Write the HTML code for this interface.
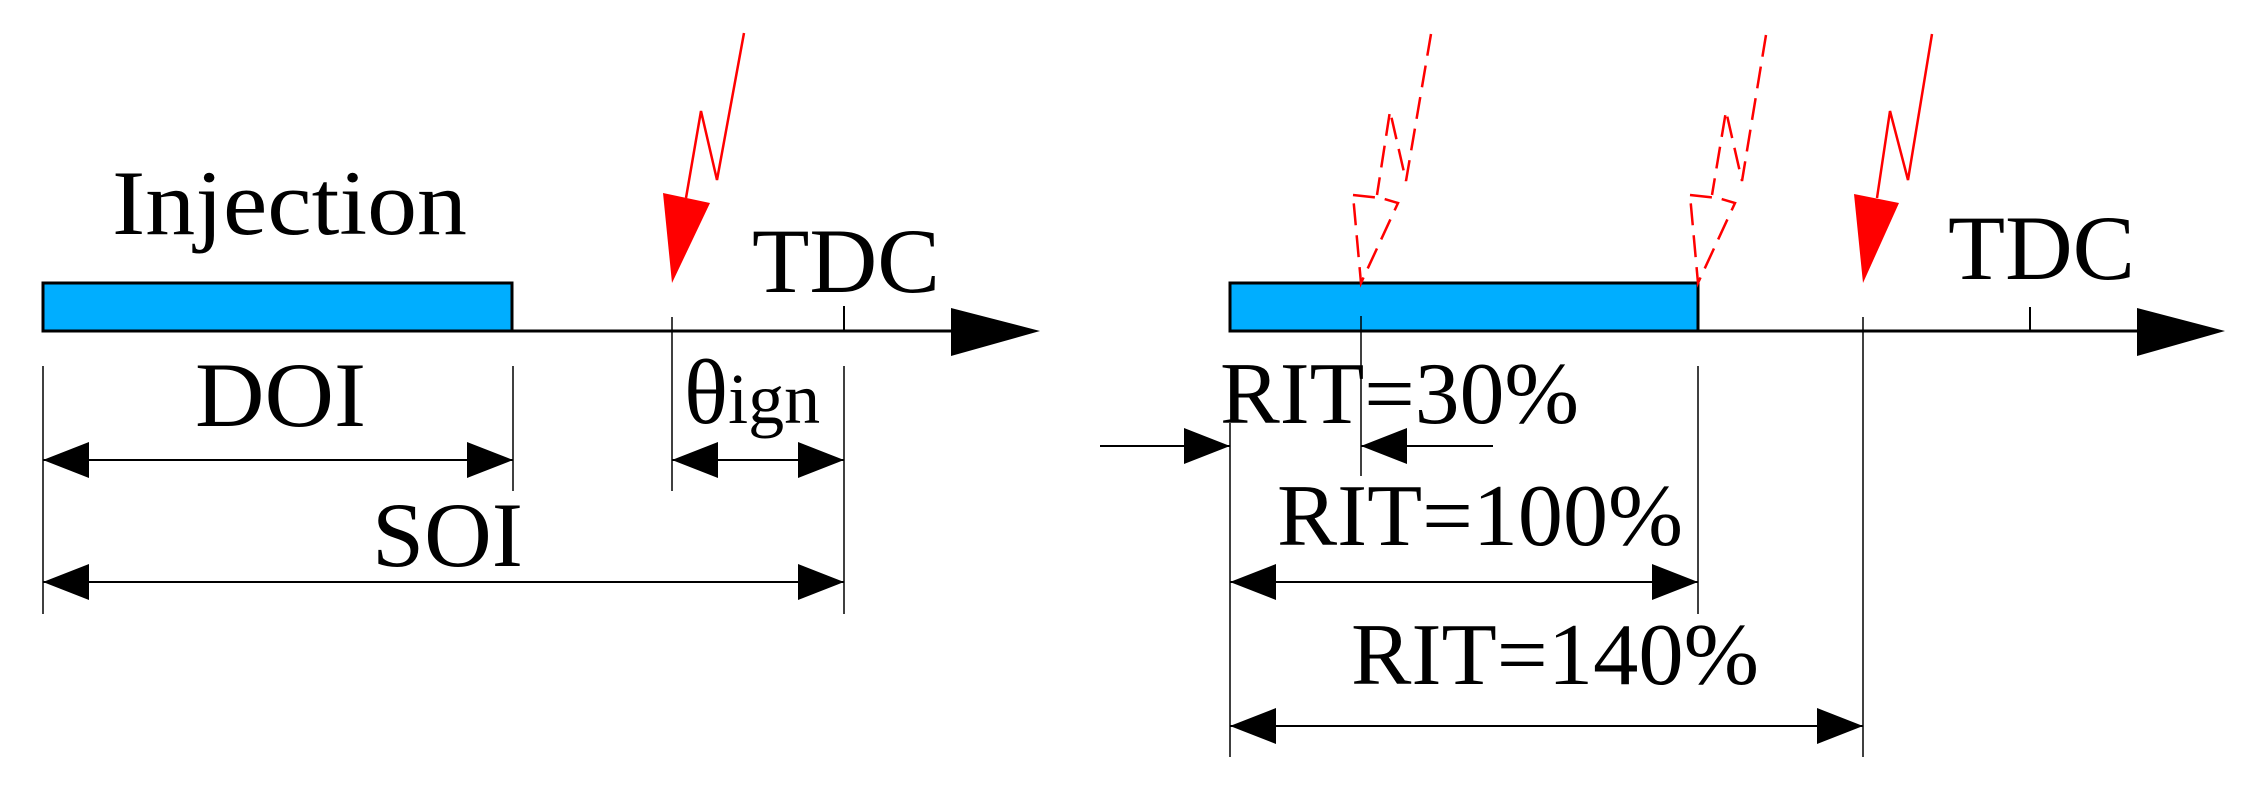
<!DOCTYPE html>
<html><head><meta charset="utf-8"><style>html,body{margin:0;padding:0;background:#fff}svg{display:block}</style></head>
<body>
<svg width="2242" height="786" viewBox="0 0 2242 786" xmlns="http://www.w3.org/2000/svg">
<defs>
<marker id="a" markerWidth="46" markerHeight="36" refX="46" refY="18" orient="auto-start-reverse" markerUnits="userSpaceOnUse"><path d="M0,0 L46,18 L0,36 Z" fill="#000"/></marker>
</defs>
<g font-family="'Liberation Serif', serif" fill="#000">
<!-- LEFT -->
<rect x="43" y="283" width="469" height="48" fill="#00aeff" stroke="#000" stroke-width="3"/>
<line x1="43" y1="331" x2="960" y2="331" stroke="#000" stroke-width="3"/>
<path d="M951,308 L1040,331 L951,356 Z"/>
<line x1="844" y1="306" x2="844" y2="331" stroke="#000" stroke-width="2"/>
<line x1="672" y1="317" x2="672" y2="491" stroke="#000" stroke-width="1.5"/>
<line x1="43" y1="366" x2="43" y2="614" stroke="#000" stroke-width="1.5"/>
<line x1="513" y1="366" x2="513" y2="491" stroke="#000" stroke-width="1.5"/>
<line x1="844" y1="366" x2="844" y2="614" stroke="#000" stroke-width="1.5"/>
<line x1="43" y1="460" x2="513" y2="460" stroke="#000" stroke-width="2" marker-start="url(#a)" marker-end="url(#a)"/>
<line x1="672" y1="460" x2="844" y2="460" stroke="#000" stroke-width="2" marker-start="url(#a)" marker-end="url(#a)"/>
<line x1="43" y1="582" x2="844" y2="582" stroke="#000" stroke-width="2" marker-start="url(#a)" marker-end="url(#a)"/>
<polyline points="744,33 717,180 701,111 686,198" fill="none" stroke="#f00" stroke-width="2.5"/>
<path d="M663,193 L710,203 L672,283 Z" fill="#f00"/>
<text x="112" y="234" font-size="92" textLength="355" lengthAdjust="spacingAndGlyphs">Injection</text>
<text x="752" y="292" font-size="92" textLength="188" lengthAdjust="spacingAndGlyphs">TDC</text>
<text x="195" y="426" font-size="92" textLength="171" lengthAdjust="spacingAndGlyphs">DOI</text>
<text x="684" y="423" font-size="92">θ<tspan font-size="72">ign</tspan></text>
<text x="372" y="566" font-size="92" textLength="151" lengthAdjust="spacingAndGlyphs">SOI</text>
<!-- RIGHT -->
<rect x="1230" y="283" width="468" height="48" fill="#00aeff" stroke="#000" stroke-width="3"/>
<line x1="1230" y1="331" x2="2150" y2="331" stroke="#000" stroke-width="3"/>
<path d="M2137,308 L2225,331 L2137,356 Z"/>
<line x1="2030" y1="307" x2="2030" y2="331" stroke="#000" stroke-width="2"/>
<line x1="1863" y1="317" x2="1863" y2="757" stroke="#000" stroke-width="1.5"/>
<line x1="1361" y1="316" x2="1361" y2="476" stroke="#000" stroke-width="1.5"/>
<line x1="1698" y1="366" x2="1698" y2="614" stroke="#000" stroke-width="1.5"/>
<line x1="1230" y1="423" x2="1230" y2="757" stroke="#000" stroke-width="1.5"/>
<line x1="1100" y1="446" x2="1230" y2="446" stroke="#000" stroke-width="2" marker-end="url(#a)"/>
<line x1="1493" y1="446" x2="1361" y2="446" stroke="#000" stroke-width="2" marker-end="url(#a)"/>
<line x1="1230" y1="582" x2="1698" y2="582" stroke="#000" stroke-width="2" marker-start="url(#a)" marker-end="url(#a)"/>
<line x1="1230" y1="726" x2="1863" y2="726" stroke="#000" stroke-width="2" marker-start="url(#a)" marker-end="url(#a)"/>
<polyline points="1932,34 1908,180 1890,111 1877,198" fill="none" stroke="#f00" stroke-width="2.5"/>
<path d="M1854,194 L1899,203 L1863,283 Z" fill="#f00"/>
<g fill="none" stroke="#f00" stroke-width="2.5" stroke-dasharray="22,10">
<polyline points="1431,34 1406,181 1390,111 1377,195"/>
<path d="M1353,195 L1381,198 L1398,203 L1361,283 Z"/>
<polyline points="1766,35 1742,181 1726,111 1712,195"/>
<path d="M1690,195 L1718,198 L1735,203 L1698,283 Z"/>
</g>
<text x="1948" y="279" font-size="92" textLength="187" lengthAdjust="spacingAndGlyphs">TDC</text>
<text x="1220" y="423" font-size="88" textLength="359" lengthAdjust="spacingAndGlyphs">RIT=30%</text>
<text x="1277" y="545" font-size="88" textLength="406" lengthAdjust="spacingAndGlyphs">RIT=100%</text>
<text x="1351" y="684" font-size="88" textLength="408" lengthAdjust="spacingAndGlyphs">RIT=140%</text>
</g>
</svg>
</body></html>
